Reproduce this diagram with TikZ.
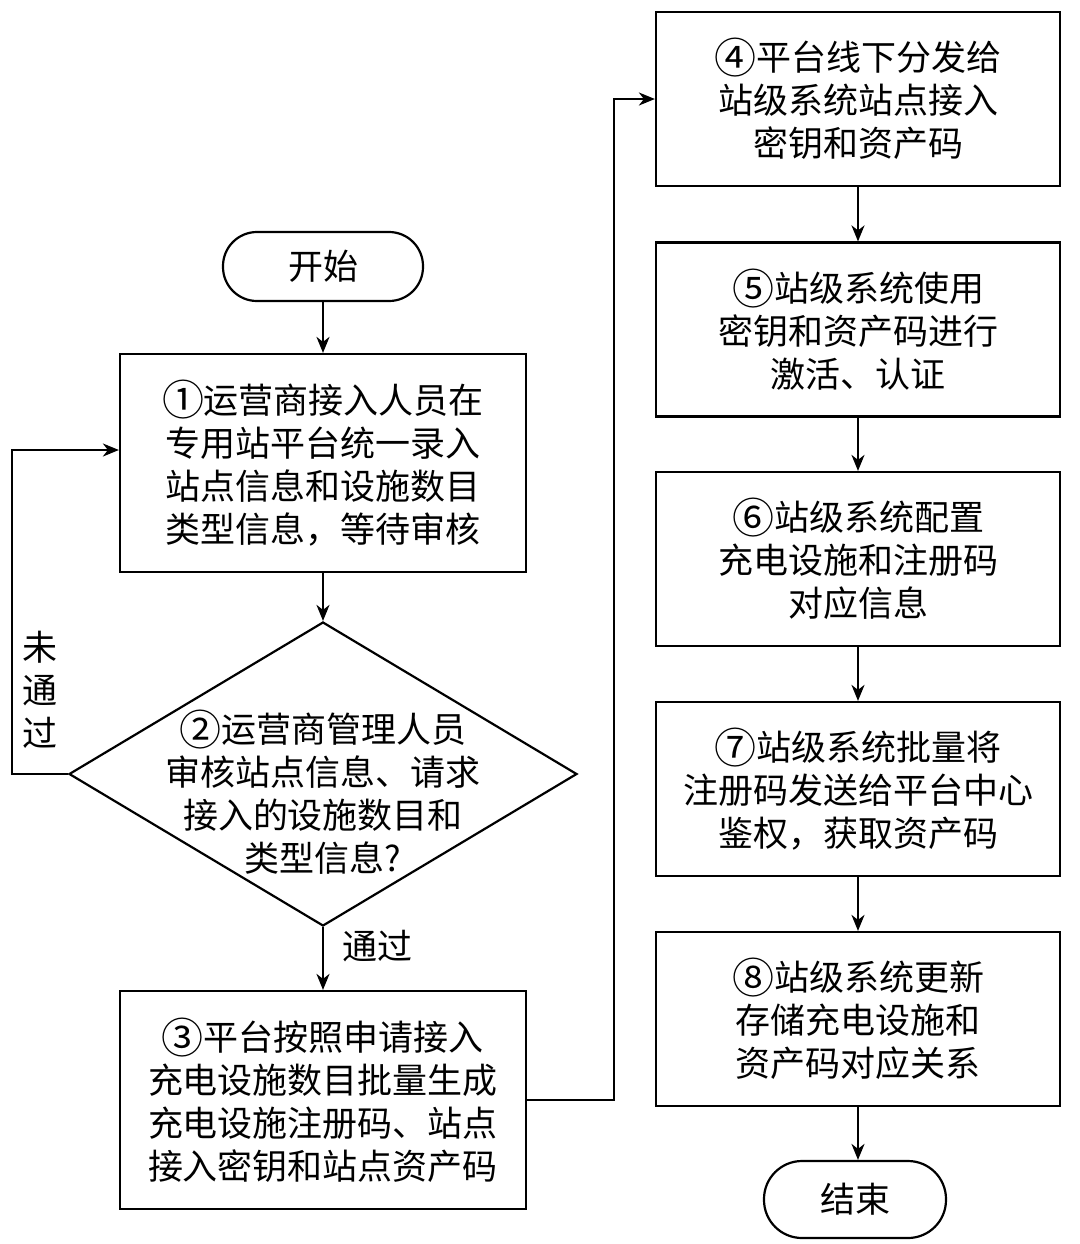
\documentclass[tikz,border=0pt]{standalone}
\usepackage{fontspec}
\setmainfont{Noto Sans CJK SC}
\usetikzlibrary{shapes.geometric,arrows.meta}
\newcommand{\cnum}[1]{\raisebox{-0.08em}{\scalebox{1.2}{#1}}}
\begin{document}
\begin{tikzpicture}[x=0.5pt,y=-0.5pt,
  every node/.style={font=\fontsize{17.5pt}{21.5pt}\selectfont},
  box/.style={draw, line width=1.1pt, rectangle, minimum width=203pt, minimum height=109pt, align=center, inner sep=0pt},
  rbox/.style={draw, line width=1.1pt, rectangle, minimum width=202pt, minimum height=87pt, align=center, inner sep=0pt},
  term/.style={draw, line width=1.1pt, rectangle, rounded corners=17pt, minimum width=100pt, minimum height=34.5pt, inner sep=0pt},
  dia/.style={draw, diamond, line width=1.1pt, minimum width=254pt, minimum height=152pt, inner sep=0pt},
  arr/.style={line width=1.1pt, -{Stealth[length=8pt,width=6.5pt,inset=2.5pt]}},
  lbl/.style={align=center, inner sep=0pt}
]
\useasboundingbox (0,0) rectangle (1080,1244);

% left column
\node[term] (start) at (323,266.5) {开始};
\node[box] (b1) at (323,463) {\cnum{①}运营商接入人员在\\专用站平台统一录入\\站点信息和设施数目\\类型信息，等待审核};
\node[dia] (d2) at (323,774) {};
\node[lbl] (d2t) at (323,792) {\cnum{②}运营商管理人员\\审核站点信息、请求\\接入的设施数目和\\类型信息?};
\node[box] (b3) at (323,1100) {\cnum{③}平台按照申请接入\\充电设施数目批量生成\\充电设施注册码、站点\\接入密钥和站点资产码};

% right column
\node[rbox] (b4) at (858,99) {\cnum{④}平台线下分发给\\站级系统站点接入\\密钥和资产码};
\node[rbox] (b5) at (858,329.5) {\cnum{⑤}站级系统使用\\密钥和资产码进行\\激活、认证};
\node[rbox] (b6) at (858,559) {\cnum{⑥}站级系统配置\\充电设施和注册码\\对应信息};
\node[rbox] (b7) at (858,789) {\cnum{⑦}站级系统批量将\\注册码发送给平台中心\\鉴权，获取资产码};
\node[rbox] (b8) at (858,1019) {\cnum{⑧}站级系统更新\\存储充电设施和\\资产码对应关系};
\node[term, minimum width=91pt, minimum height=38.5pt, rounded corners=19pt] (end) at (855,1199.5) {结束};

% labels
\node[lbl] (pass) at (377,946) {通过};
\node[lbl] (fail) at (40,690) {未\\通\\过};

% helper coordinates
\coordinate (lp) at (12,450);
\coordinate (rp) at (614,99);

% connectors
\draw[arr] (start.south) -- (b1.north);
\draw[arr] (b1.south) -- (d2.north);
\draw[arr] (d2.south) -- (b3.north);
\draw[arr] (d2.west) -| (lp) -- (b1.west |- lp);
\draw[arr] (b3.east) -| (rp) -- (b4.west);
\draw[arr] (b4.south) -- (b5.north);
\draw[arr] (b5.south) -- (b6.north);
\draw[arr] (b6.south) -- (b7.north);
\draw[arr] (b7.south) -- (b8.north);
\draw[arr] (b8.south) -- (b8.south |- end.north);
\end{tikzpicture}
\end{document}
